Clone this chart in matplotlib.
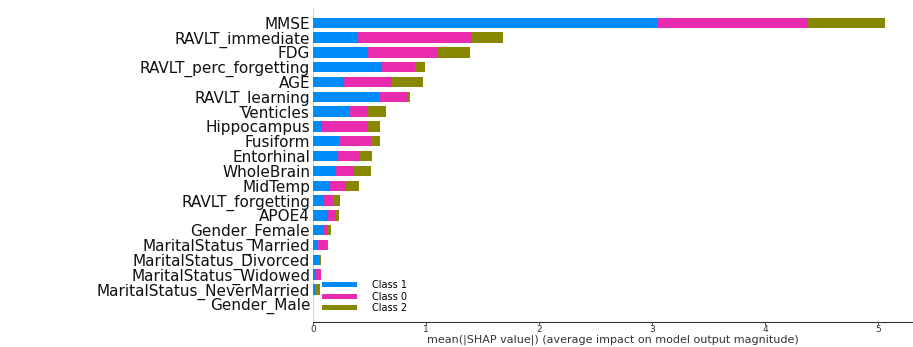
import numpy as np
import matplotlib
matplotlib.use("Agg")
import matplotlib.pyplot as plt

# feature names, top to bottom
features = ["MMSE", "RAVLT_immediate", "FDG", "RAVLT_perc_forgetting", "AGE",
            "RAVLT_learning", "Venticles", "Hippocampus", "Fusiform", "Entorhinal",
            "WholeBrain", "MidTemp", "RAVLT_forgetting", "APOE4", "Gender_Female",
            "MaritalStatus_Married", "MaritalStatus_Divorced", "MaritalStatus_Widowed",
            "MaritalStatus_NeverMarried", "Gender_Male"]

# mean |SHAP| per class
class1 = [3.05, 0.40, 0.49, 0.61, 0.27, 0.58, 0.32, 0.08, 0.23, 0.22,
          0.20, 0.15, 0.10, 0.135, 0.085, 0.04, 0.06, 0.02, 0.015, 0.0]
class0 = [1.33, 1.01, 0.61, 0.29, 0.43, 0.25, 0.17, 0.41, 0.28, 0.20,
          0.15, 0.14, 0.08, 0.065, 0.05, 0.08, 0.005, 0.05, 0.005, 0.0]
class2 = [0.68, 0.27, 0.29, 0.09, 0.27, 0.03, 0.16, 0.10, 0.08, 0.10,
          0.16, 0.12, 0.06, 0.03, 0.025, 0.015, 0.008, 0.002, 0.04, 0.0]

class_names = ["Class 1", "Class 0", "Class 2"]
colors = ["#008bfb", "#e92bad", "#888800"]

fig = plt.figure(figsize=(9.13, 3.47), dpi=100)
ax = fig.add_axes([313 / 913, 25 / 347, 599 / 913, 314 / 347])

n = len(features)
y = np.arange(n)[::-1]
left = np.zeros(n)
for vals, name, c in zip([class1, class0, class2], class_names, colors):
    vals = np.array(vals)
    ax.barh(y, vals, 0.7, left=left, color=c, label=name)
    left = left + vals

ax.set_yticks(y)
ax.set_yticklabels(features, fontsize=11, color="#111111")
ax.tick_params(axis="y", length=0, pad=2)
ax.set_ylim(-1.2, n)
ax.set_xlim(0, 5.3)
ax.set_xticks(range(6))
ax.tick_params(axis="x", labelsize=6.5, colors="#333333", length=2, width=0.6, pad=0.5)

ax.axvline(0, color="#cccccc", lw=1.2, zorder=-1)
for s in ["top", "right", "left"]:
    ax.spines[s].set_visible(False)
ax.spines["bottom"].set_color("#333333")
ax.spines["bottom"].set_linewidth(0.8)

ax.set_xlabel("mean(|SHAP value|) (average impact on model output magnitude)",
              fontsize=8, color="#333333", labelpad=0)

ax.legend(loc="lower left", bbox_to_anchor=(0.0, 0.0), frameon=False,
          fontsize=7, handlelength=3.6, handleheight=0.45, labelspacing=0.15,
          handletextpad=1.6, borderaxespad=0.5, borderpad=0.4)

fig.savefig("out.png", dpi=100)
